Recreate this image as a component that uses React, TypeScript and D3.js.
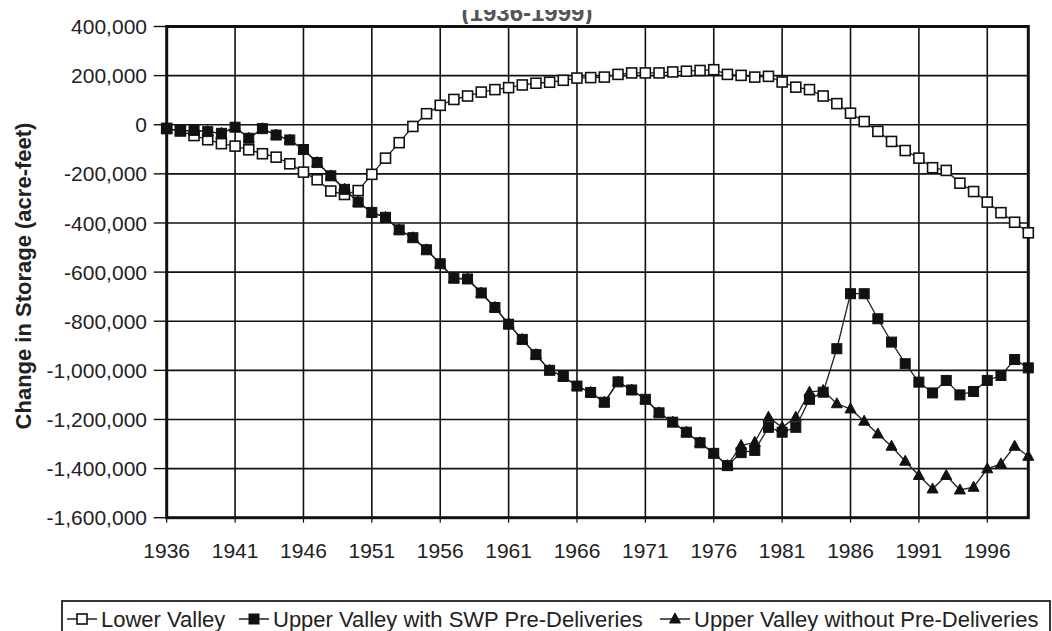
import React from "react";
import * as d3 from "d3";

const years: number[] = d3.range(1936, 2000);

const lowerValley: number[] = [
  -15000, -25000, -44000, -61000, -77000, -87000, -102000, -118000, -132000, -159000,
  -193000, -224000, -270000, -284000, -268000, -202000, -136000, -73000, -7000, 45000,
  79000, 103000, 117000, 133000, 143000, 151000, 162000, 169000, 173000, 181000,
  190000, 192000, 194000, 205000, 211000, 211000, 211000, 215000, 218000, 221000,
  224000, 205000, 201000, 194000, 197000, 174000, 153000, 143000, 117000, 86000,
  47000, 13000, -27000, -68000, -105000, -136000, -175000, -186000, -238000, -272000,
  -315000, -358000, -397000, -440000,
];

const upperWithSWP: number[] = [
  -16000, -25000, -23000, -28000, -35000, -10000, -55000, -16000, -42000, -62000,
  -101000, -154000, -208000, -263000, -315000, -357000, -377000, -428000, -460000, -509000,
  -566000, -625000, -628000, -685000, -744000, -812000, -874000, -936000, -1000000, -1025000,
  -1064000, -1090000, -1130000, -1047000, -1080000, -1118000, -1173000, -1211000, -1252000, -1295000,
  -1338000, -1388000, -1335000, -1326000, -1232000, -1252000, -1232000, -1118000, -1089000, -912000,
  -688000, -688000, -790000, -885000, -973000, -1048000, -1092000, -1041000, -1100000, -1086000,
  -1041000, -1021000, -956000, -990000,
];

const upperWithout: number[] = [
  -16000, -25000, -23000, -28000, -35000, -10000, -55000, -16000, -42000, -62000,
  -101000, -154000, -208000, -263000, -315000, -357000, -377000, -428000, -460000, -509000,
  -566000, -625000, -628000, -685000, -744000, -812000, -874000, -936000, -1000000, -1025000,
  -1064000, -1090000, -1130000, -1047000, -1080000, -1118000, -1173000, -1211000, -1252000, -1295000,
  -1338000, -1388000, -1306000, -1293000, -1191000, -1232000, -1191000, -1089000, -1082000, -1136000,
  -1157000, -1207000, -1259000, -1309000, -1370000, -1428000, -1483000, -1428000, -1487000, -1476000,
  -1401000, -1381000, -1309000, -1350000,
];

const xTickYears: number[] = [1936, 1941, 1946, 1951, 1956, 1961, 1966, 1971, 1976, 1981, 1986, 1991, 1996];
const yTickValues: number[] = [400000, 200000, 0, -200000, -400000, -600000, -800000, -1000000, -1200000, -1400000, -1600000];
const yTickLabels: string[] = ["400,000", "200,000", "0", "-200,000", "-400,000", "-600,000", "-800,000", "-1,000,000", "-1,200,000", "-1,400,000", "-1,600,000"];

const seriesNames: string[] = ["Lower Valley", "Upper Valley with SWP Pre-Deliveries", "Upper Valley without Pre-Deliveries"];
const titleText = "(1936-1999)";
const yAxisTitle = "Change in Storage (acre-feet)";

const FONT = "'Liberation Sans', Arial, Helvetica, sans-serif";
const INK = "#111";

const PL = 166.7, PR = 1028.3, PT = 26.5, PB = 517.7;

function Marker({ kind, cx, cy }: { kind: string; cx: number; cy: number }) {
  const s = 10;
  if (kind === "open") {
    return <rect x={cx - s / 2} y={cy - s / 2} width={s} height={s} fill="#fff" stroke={INK} strokeWidth={1.6} />;
  }
  if (kind === "filled") {
    return <rect x={cx - s / 2} y={cy - s / 2} width={s} height={s} fill={INK} stroke={INK} strokeWidth={1} />;
  }
  const h = 10;
  const w = 11;
  const pts = `${cx},${cy - h * 0.6} ${cx - w / 2},${cy + h * 0.4} ${cx + w / 2},${cy + h * 0.4}`;
  return <polygon points={pts} fill={INK} stroke={INK} strokeWidth={1} />;
}

export default function App() {
  const x = d3.scaleLinear().domain([1936, 1999]).range([PL, PR]);
  const y = d3.scaleLinear().domain([-1600000, 400000]).range([PB, PT]);

  const line = d3
    .line<number>()
    .x((_, i) => x(years[i]))
    .y((d) => y(d));

  const series = [
    { name: seriesNames[2], data: upperWithout, kind: "tri" },
    { name: seriesNames[0], data: lowerValley, kind: "open" },
    { name: seriesNames[1], data: upperWithSWP, kind: "filled" },
  ];

  const legendItems = [
    { name: seriesNames[0], kind: "open", x0: 67 },
    { name: seriesNames[1], kind: "filled", x0: 239 },
    { name: seriesNames[2], kind: "tri", x0: 660 },
  ];

  return (
    <svg
      width={1052}
      height={631}
      style={{ position: "absolute", left: 0, top: 0, background: "#fff" }}
      fontFamily={FONT}
    >
      <defs>
        <clipPath id="titleClip">
          <rect x={0} y={10} width={1052} height={14} />
        </clipPath>
      </defs>
      <rect x={0} y={0} width={1052} height={631} fill="#fff" />

      {/* partially cut title */}
      <g clipPath="url(#titleClip)">
        <text x={527} y={21} textAnchor="middle" fontSize={24} fill="#555" fontWeight="bold">
          {titleText}
        </text>
      </g>

      {/* grid */}
      {yTickValues.map((v) => (
        <line key={"gy" + v} x1={PL} x2={PR} y1={y(v)} y2={y(v)} stroke={INK} strokeWidth={1.6} />
      ))}
      {xTickYears.map((yr) => (
        <line key={"gx" + yr} x1={x(yr)} x2={x(yr)} y1={PT} y2={PB} stroke={INK} strokeWidth={1.6} />
      ))}

      {/* y ticks and labels */}
      {yTickValues.map((v, i) => (
        <g key={"yt" + v}>
          <line x1={PL - 13} x2={PL} y1={y(v)} y2={y(v)} stroke={INK} strokeWidth={1.4} />
          <text x={147} y={y(v)} dy="0.36em" textAnchor="end" fontSize={21} fill="#222">
            {yTickLabels[i]}
          </text>
        </g>
      ))}

      {/* x labels */}
      {xTickYears.map((yr) => (
        <g key={"xt" + yr}>
          <line x1={x(yr)} x2={x(yr)} y1={PB} y2={PB + 5} stroke={INK} strokeWidth={1.2} />
          <text x={x(yr)} y={558} textAnchor="middle" fontSize={21} fill="#222">
            {yr}
          </text>
        </g>
      ))}

      {/* y axis title */}
      <text
        transform={`translate(31,276) rotate(-90)`}
        textAnchor="middle"
        fontSize={22}
        fontWeight="bold"
        fill="#222"
      >
        {yAxisTitle}
      </text>

      {/* plot frame */}
      <rect x={PL} y={PT} width={PR - PL} height={PB - PT} fill="none" stroke={INK} strokeWidth={3} />

      {/* series */}
      {series.map((s) => (
        <g key={s.name}>
          <path d={line(s.data) || ""} fill="none" stroke="#222" strokeWidth={1.3} />
          {s.data.map((v, i) => (
            <Marker key={i} kind={s.kind} cx={x(years[i])} cy={y(v)} />
          ))}
        </g>
      ))}

      {/* legend */}
      <rect x={62} y={601} width={988} height={40} fill="#fff" stroke="#222" strokeWidth={1.8} />
      {legendItems.map((it) => (
        <g key={it.name}>
          <line x1={it.x0} x2={it.x0 + 30} y1={619} y2={619} stroke="#222" strokeWidth={1.5} />
          <Marker kind={it.kind} cx={it.x0 + 15} cy={619} />
          <text x={it.x0 + 34} y={627} fontSize={22} fill="#222">
            {it.name}
          </text>
        </g>
      ))}
    </svg>
  );
}
